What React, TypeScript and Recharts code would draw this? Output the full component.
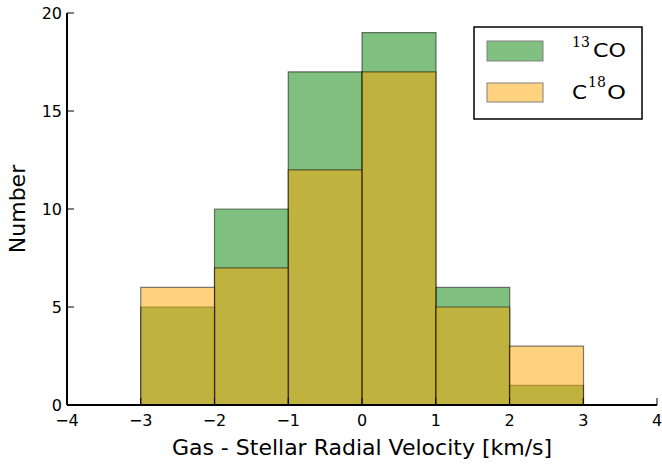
import { BarChart, Bar, XAxis, YAxis } from 'recharts';

// histogram bin centres (bins are 1 km/s wide, from -3 to 3)
const binCenters = [-2.5, -1.5, -0.5, 0.5, 1.5, 2.5];
const co13Counts = [5, 10, 17, 19, 6, 1];
const c18oCounts = [6, 7, 12, 17, 5, 3];

const xTicks = [-4, -3, -2, -1, 0, 1, 2, 3, 4];
const yTicks = [0, 5, 10, 15, 20];

const data = binCenters.map((x, i) => ({ x, co13: co13Counts[i], c18o: c18oCounts[i] }));

const W = 662;
const H = 466;
const PLOT_LEFT = 67;
const PLOT_RIGHT = 657;
const PLOT_TOP = 13;
const PLOT_BOTTOM = 405;
const TICK_LEN = 7;
const FONT = '"DejaVu Sans", sans-serif';

const fmt = (v: number) => (v < 0 ? `\u2212${Math.abs(v)}` : `${v}`);

const BottomTick = ({ x, y, payload }: any) => (
  <g>
    <line x1={x} x2={x} y1={y} y2={y - TICK_LEN} stroke="#000" strokeWidth={1} />
    <text x={x} y={y + 21} textAnchor="middle" fontSize={16} fontFamily={FONT} fill="#000">
      {fmt(payload.value)}
    </text>
  </g>
);

const TopTick = ({ x, y }: any) => (
  <line x1={x} x2={x} y1={y} y2={y + TICK_LEN} stroke="#000" strokeWidth={1} />
);

const LeftTick = ({ x, y, payload }: any) => (
  <g>
    <line x1={x} x2={x + TICK_LEN} y1={y} y2={y} stroke="#000" strokeWidth={1} />
    <text x={x - 5} y={y + 6} textAnchor="end" fontSize={16} fontFamily={FONT} fill="#000">
      {payload.value}
    </text>
  </g>
);

const RightTick = ({ x, y }: any) => (
  <line x1={x} x2={x - TICK_LEN} y1={y} y2={y} stroke="#000" strokeWidth={1} />
);

function LegendBox() {
  const sup = { fontFamily: '"DejaVu Serif", serif', fontSize: 14 };
  return (
    <svg
      width={170}
      height={94}
      style={{ position: 'absolute', left: 473, top: 26 }}
      fontFamily={FONT}
      fontSize={20}
      fill="#000"
    >
      <rect x={1} y={1} width={168} height={92} fill="#fff" stroke="#000" strokeWidth={1.5} />
      <rect x={14} y={15} width={56} height={20} fill="#80c080" stroke="#808080" strokeWidth={1} />
      <rect x={14} y={57} width={56} height={19} fill="#ffd280" stroke="#808080" strokeWidth={1} />
      <text x={99} y={21} {...sup}>13</text>
      <text x={120} y={31} textLength={33} lengthAdjust="spacingAndGlyphs">CO</text>
      <text x={99} y={73} textLength={15} lengthAdjust="spacingAndGlyphs">C</text>
      <text x={115} y={61} {...sup}>18</text>
      <text x={134} y={73} textLength={19} lengthAdjust="spacingAndGlyphs">O</text>
    </svg>
  );
}

export default function App() {
  return (
    <div style={{ position: 'absolute', left: 0, top: 0, width: W, height: H, background: '#fff' }}>
      <BarChart
        width={W}
        height={H}
        data={data}
        margin={{ top: PLOT_TOP, right: W - PLOT_RIGHT, bottom: 0, left: 0 }}
        barGap={0}
        barCategoryGap={0}
      >
        <XAxis
          xAxisId="main"
          dataKey="x"
          type="number"
          domain={[-4, 4]}
          ticks={xTicks}
          tickSize={0}
          tickMargin={0}
          tickLine={false}
          tick={<BottomTick />}
          axisLine={{ stroke: '#000', strokeWidth: 2 }}
          height={H - PLOT_BOTTOM}
          label={{ value: 'Gas - Stellar Radial Velocity [km/s]', position: 'insideBottom', offset: 11, fontSize: 22, fontFamily: FONT, fill: '#000' }}
        />
        <XAxis xAxisId="over" dataKey="x" type="number" domain={[-4, 4]} hide />
        <XAxis
          xAxisId="top"
          orientation="top"
          dataKey="x"
          type="number"
          domain={[-4, 4]}
          ticks={xTicks}
          tickSize={0}
          tickMargin={0}
          tickLine={false}
          tick={<TopTick />}
          axisLine={{ stroke: '#000', strokeWidth: 2 }}
          height={0}
        />
        <YAxis
          yAxisId="left"
          type="number"
          domain={[0, 20]}
          ticks={yTicks}
          tickSize={0}
          tickMargin={0}
          tickLine={false}
          tick={<LeftTick />}
          axisLine={{ stroke: '#000', strokeWidth: 2 }}
          width={PLOT_LEFT}
          label={{ value: 'Number', angle: -90, position: 'insideLeft', offset: 17, fontSize: 22, fontFamily: FONT, fill: '#000', style: { textAnchor: 'middle' } }}
        />
        <YAxis
          yAxisId="right"
          orientation="right"
          type="number"
          domain={[0, 20]}
          ticks={yTicks}
          tickSize={0}
          tickMargin={0}
          tickLine={false}
          tick={<RightTick />}
          axisLine={{ stroke: '#000', strokeWidth: 2 }}
          width={0}
        />
        <Bar
          xAxisId="main"
          yAxisId="left"
          dataKey="co13"
          fill="#008000"
          fillOpacity={0.5}
          stroke="#000"
          strokeOpacity={0.5}
          strokeWidth={1.2}
          isAnimationActive={false}
        />
        <Bar
          xAxisId="over"
          yAxisId="left"
          dataKey="c18o"
          fill="#ffa500"
          fillOpacity={0.5}
          stroke="#000"
          strokeOpacity={0.5}
          strokeWidth={1.2}
          isAnimationActive={false}
        />
      </BarChart>
      <LegendBox />
    </div>
  );
}
